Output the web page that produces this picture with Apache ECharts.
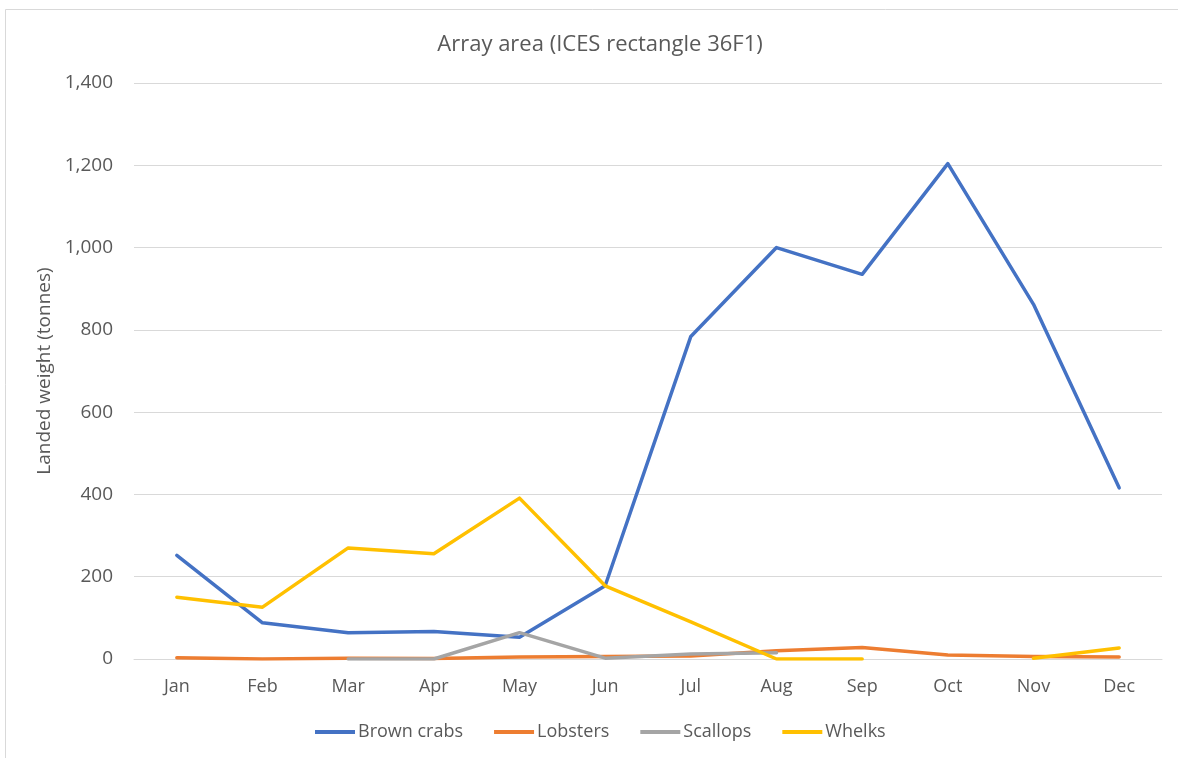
<!DOCTYPE html>
<html>
<head>
<meta charset="utf-8">
<script src="https://cdn.jsdelivr.net/npm/echarts@6/dist/echarts.min.js"></script>
<style>
html,body{margin:0;padding:0;background:#fff;}
#c{width:1178px;height:758px;}
</style>
</head>
<body>
<div id="c"></div>
<script>
const months = ['Jan','Feb','Mar','Apr','May','Jun','Jul','Aug','Sep','Oct','Nov','Dec'];
const brownCrabs = [252, 88, 64, 67, 53, 178, 784, 1000, 935, 1204, 862, 416];
const lobsters = [3, 0, 2, 1, 5, 6, 7, 20, 28, 10, 6, 5];
const scallops = [null, null, 0, 0, 64, 2, 12, 15, null, null, null, null];
const whelks = [150, 126, 270, 256, 391, 178, 90, 0, 0, null, 2, 27];
const yTicks = [0, 200, 400, 600, 800, 1000, 1200, 1400];

const FONT = 'Open Sans';
const chart = echarts.init(document.getElementById('c'), null, {renderer:'canvas'});
const mk = (name, data, color) => ({
  name, type:'line', data, symbol:'none', smooth:false, connectNulls:false,
  lineStyle:{color, width:3.5, cap:'round', join:'round'}, itemStyle:{color}
});
chart.setOption({
  animation:false,
  backgroundColor:'#fff',
  graphic:[{type:'rect', shape:{x:5.5,y:9.5,width:1200,height:800}, style:{fill:'none', stroke:'#d9d9d9', lineWidth:1}, silent:true}],
  title:{text:'Array area (ICES rectangle 36F1)', left:595, textAlign:'center', top:29,
    textStyle:{fontFamily:FONT, fontSize:22, fontWeight:'normal', color:'#595959'}},
  legend:{bottom:12, left:310, itemWidth:40, itemHeight:4, itemGap:31, icon:'rect',
    textStyle:{fontFamily:FONT, fontSize:18, color:'#595959', padding:[0,0,0,-2]},
    data:['Brown crabs','Lobsters','Scallops','Whelks']},
  grid:{left:134, right:16, top:83, bottom:99, containLabel:false},
  xAxis:{type:'category', data:months, boundaryGap:true,
    axisLine:{show:true, lineStyle:{color:'#d9d9d9', width:1}},
    axisTick:{show:false},
    axisLabel:{fontFamily:FONT, fontSize:18, color:'#595959', margin:19}},
  yAxis:{type:'value', min:0, max:1400, interval:200,
    name:'Landed weight (tonnes)', nameLocation:'middle', nameGap:78, nameRotate:90,
    nameTextStyle:{fontFamily:FONT, fontSize:19, color:'#595959'},
    axisLine:{show:false}, axisTick:{show:false},
    splitLine:{lineStyle:{color:'#d9d9d9', width:1}},
    axisLabel:{fontFamily:FONT, fontSize:19, color:'#595959', margin:21,
      formatter:(v)=> yTicks.includes(v) ? v.toLocaleString('en-US') : ''}},
  series:[
    mk('Brown crabs', brownCrabs, '#4472c4'),
    mk('Lobsters', lobsters, '#ed7d31'),
    mk('Scallops', scallops, '#a5a5a5'),
    mk('Whelks', whelks, '#ffc000')
  ]
});
</script>
</body>
</html>
